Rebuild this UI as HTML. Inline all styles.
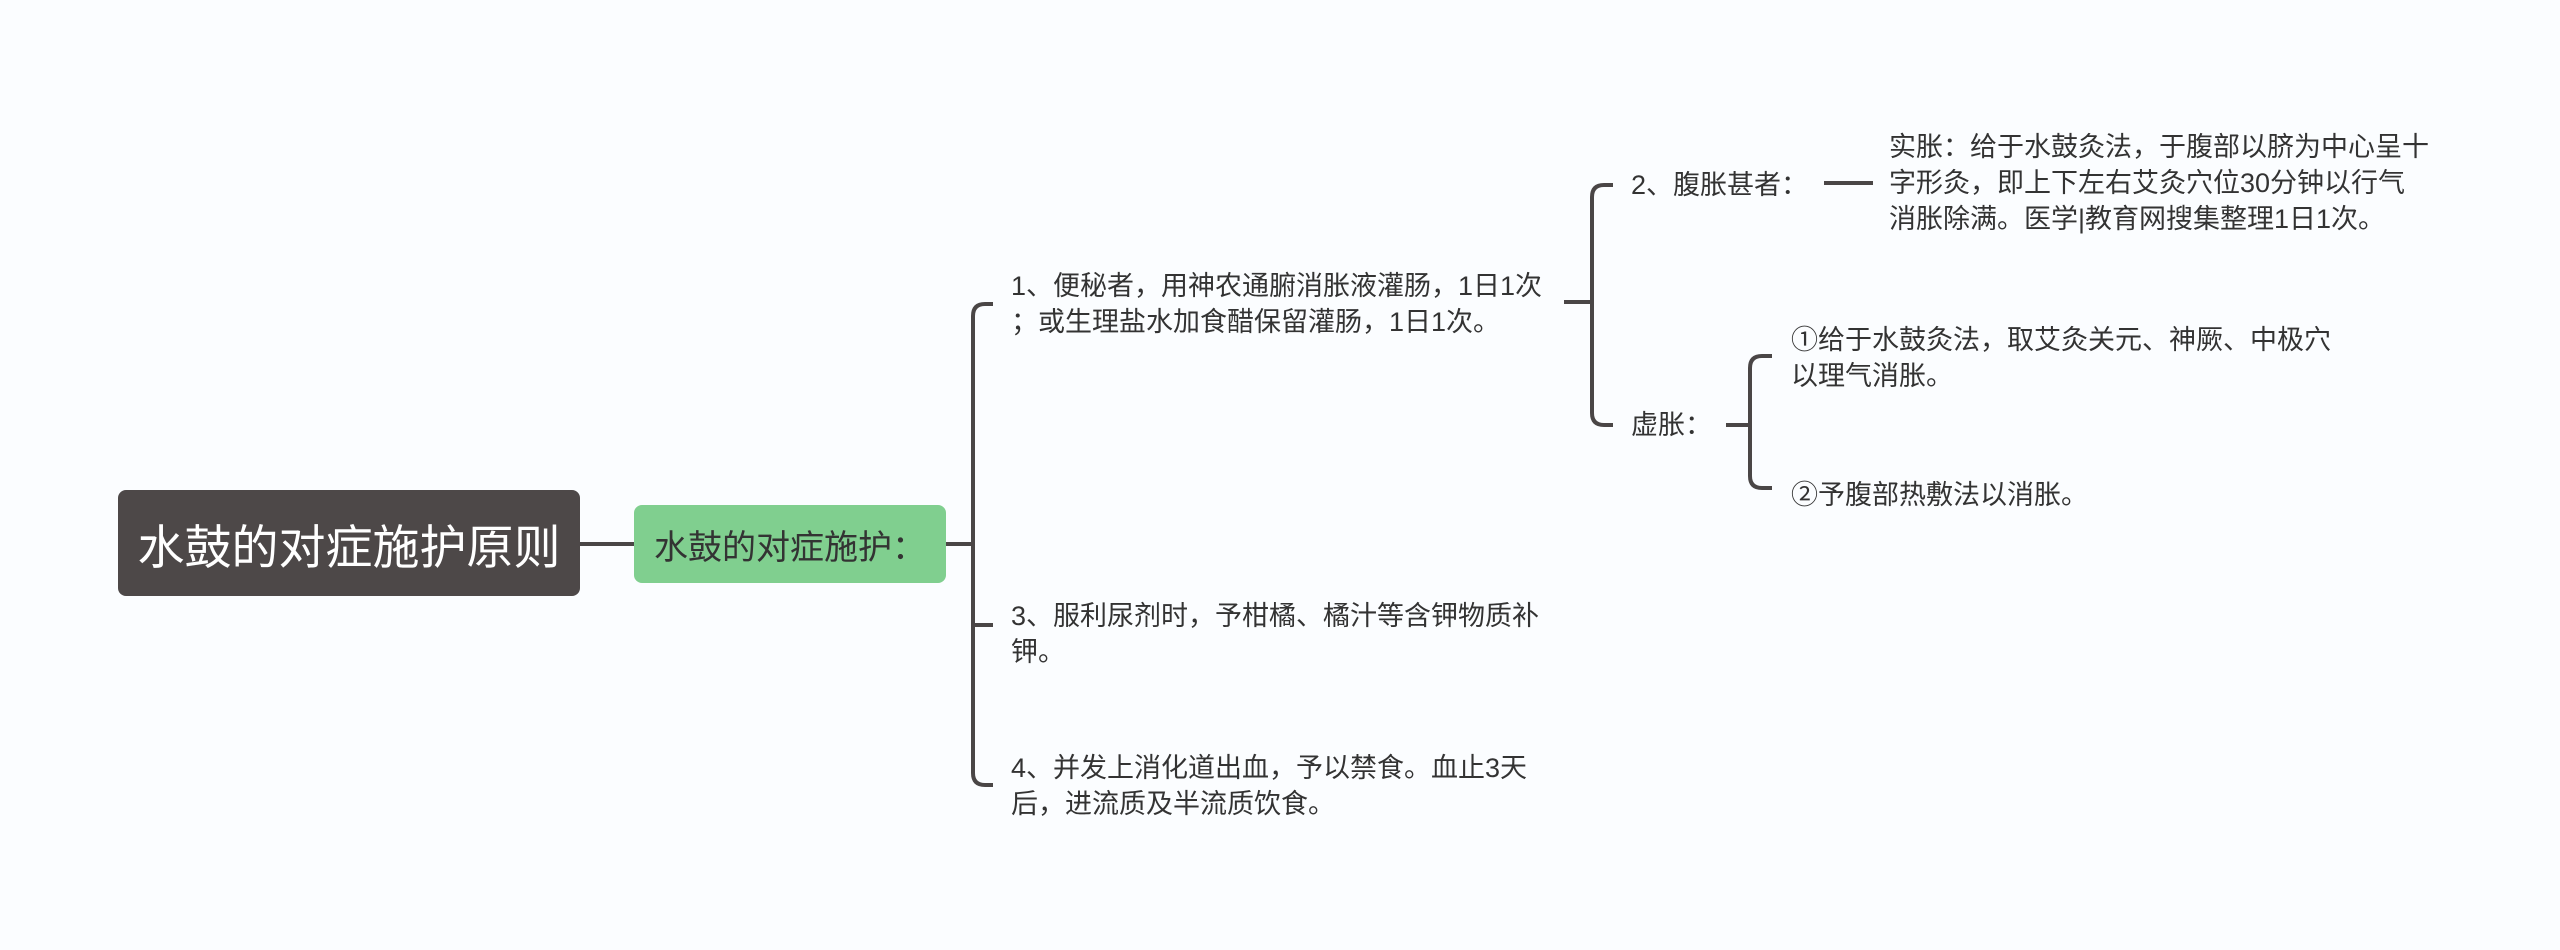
<!DOCTYPE html>
<html><head><meta charset="utf-8"><style>
body{margin:0;width:2560px;height:950px;background:#fbfdff;position:relative;overflow:hidden;font-family:"Liberation Sans","Noto Sans CJK SC",sans-serif;}
.t{position:absolute;font-size:27px;line-height:36px;color:#333;white-space:nowrap;}
.root{position:absolute;left:118px;top:490px;width:462px;height:106px;background:#4d4848;border-radius:8px;color:#fff;font-size:47px;display:flex;align-items:center;justify-content:center;}
.sub{position:absolute;left:634px;top:505px;width:312px;height:78px;background:#80cf8f;border-radius:8px;color:#333;font-size:34px;display:flex;align-items:center;justify-content:center;}
svg{position:absolute;left:0;top:0;}
</style></head><body>
<svg width="2560" height="950" fill="none" stroke="#4a4646" stroke-width="4">
<path d="M580 544H634"/>
<path d="M946 544H973"/>
<path d="M993 304H985Q973 304 973 316V773Q973 785 985 785H993"/>
<path d="M973 625H993"/>
<path d="M1564 302H1592"/>
<path d="M1613 185H1604Q1592 185 1592 197V413Q1592 425 1604 425H1613"/>
<path d="M1824 183H1873"/>
<path d="M1726 425H1750"/>
<path d="M1772 356H1762Q1750 356 1750 368V476Q1750 488 1762 488H1772"/>
</svg>
<div class="root">水鼓的对症施护原则</div>
<div class="sub">水鼓的对症施护：</div>
<div class="t" style="left:1011px;top:268px">1、便秘者，用神农通腑消胀液灌肠，1日1次<br>；或生理盐水加食醋保留灌肠，1日1次。</div>
<div class="t" style="left:1011px;top:598px">3、服利尿剂时，予柑橘、橘汁等含钾物质补<br>钾。</div>
<div class="t" style="left:1011px;top:750px">4、并发上消化道出血，予以禁食。血止3天<br>后，进流质及半流质饮食。</div>
<div class="t" style="left:1631px;top:167px">2、腹胀甚者：</div>
<div class="t" style="left:1631px;top:407px">虚胀：</div>
<div class="t" style="left:1889px;top:129px">实胀：给于水鼓灸法，于腹部以脐为中心呈十<br>字形灸，即上下左右艾灸穴位30分钟以行气<br>消胀除满。医学|教育网搜集整理1日1次。</div>
<div class="t" style="left:1791px;top:322px">①给于水鼓灸法，取艾灸关元、神厥、中极穴<br>以理气消胀。</div>
<div class="t" style="left:1791px;top:477px">②予腹部热敷法以消胀。</div>
</body></html>
